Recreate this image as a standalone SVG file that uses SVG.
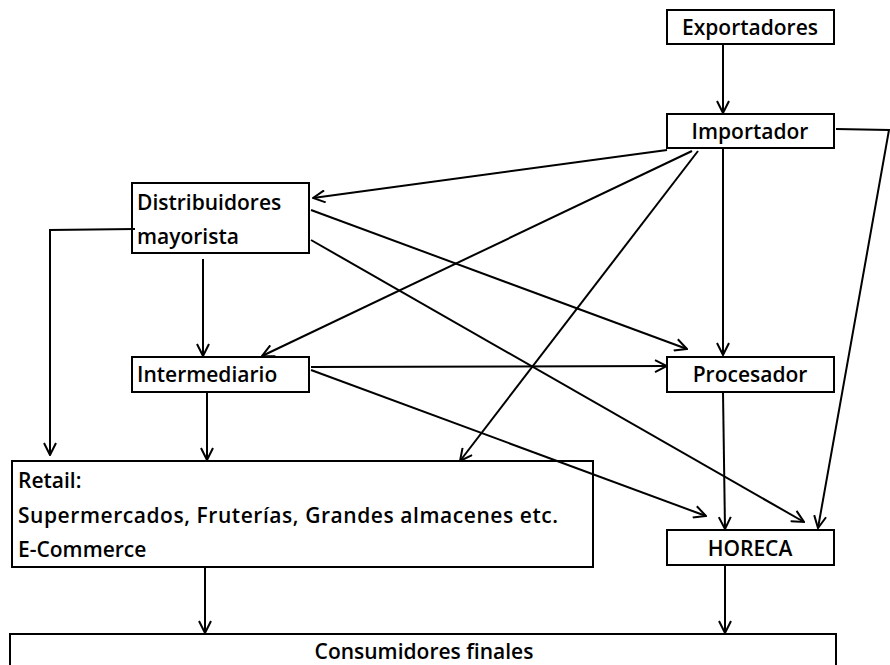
<svg xmlns="http://www.w3.org/2000/svg" width="890" height="665" viewBox="0 0 890 665">
<defs>
<marker id="arr" viewBox="0 0 14 14" refX="13" refY="7" markerWidth="14" markerHeight="14" markerUnits="userSpaceOnUse" orient="auto">
<path d="M1,1 L13,7 L1,13" fill="none" stroke="#000" stroke-width="2"/>
</marker>
<style>
.box{fill:none;stroke:#000;stroke-width:2}
.t{font-family:"Open Sans","Noto Sans",sans-serif;font-size:21px;font-weight:600;fill:#000}
.c{text-anchor:middle}
.e{fill:none;stroke:#000;stroke-width:2}
</style>
</defs>
<rect width="890" height="665" fill="#fff"/>
<g id="exportadores">
<rect class="box" x="667" y="10" width="167" height="34"/>
<text class="t c" x="750" y="35">Exportadores</text>
</g>
<g id="importador">
<rect class="box" x="667" y="114" width="167" height="34"/>
<text class="t c" x="750" y="139">Importador</text>
</g>
<g id="distribuidores">
<rect class="box" x="132" y="183" width="177" height="70"/>
<text class="t" x="137" y="210">Distribuidores</text>
<text class="t" x="137" y="244">mayorista</text>
</g>
<g id="intermediario">
<rect class="box" x="132" y="357" width="177" height="35"/>
<text class="t" x="137" y="382">Intermediario</text>
</g>
<g id="procesador">
<rect class="box" x="667" y="357" width="167" height="35"/>
<text class="t c" x="750" y="382">Procesador</text>
</g>
<g id="retail">
<rect class="box" x="12" y="461" width="581" height="106"/>
<text class="t" x="18" y="488">Retail:</text>
<text class="t" x="18" y="523" textLength="540" lengthAdjust="spacing">Supermercados, Fruterías, Grandes almacenes etc.</text>
<text class="t" x="18" y="557">E-Commerce</text>
</g>
<g id="horeca">
<rect class="box" x="667" y="530" width="167" height="35"/>
<text class="t c" x="750" y="556">HORECA</text>
</g>
<g id="consumidores">
<rect class="box" x="10" y="634" width="826" height="40"/>
<text class="t c" x="424" y="659">Consumidores finales</text>
</g>
<g id="connectors">
<line class="e" x1="723" y1="44" x2="723" y2="113" marker-end="url(#arr)"/>
<polyline class="e" points="836,129 889,130 818,528" marker-end="url(#arr)"/>
<line class="e" x1="667" y1="150" x2="313" y2="198" marker-end="url(#arr)"/>
<line class="e" x1="692" y1="151" x2="262" y2="356" marker-end="url(#arr)"/>
<line class="e" x1="698" y1="151" x2="460" y2="461" marker-end="url(#arr)"/>
<line class="e" x1="723" y1="148" x2="723" y2="355" marker-end="url(#arr)"/>
<line class="e" x1="311" y1="210" x2="687" y2="349" marker-end="url(#arr)"/>
<line class="e" x1="311" y1="240" x2="804" y2="522" marker-end="url(#arr)"/>
<line class="e" x1="203" y1="259" x2="203" y2="356" marker-end="url(#arr)"/>
<polyline class="e" points="135,229 50,230 50,455" marker-end="url(#arr)"/>
<line class="e" x1="311" y1="367" x2="667" y2="366" marker-end="url(#arr)"/>
<line class="e" x1="311" y1="370" x2="706" y2="516" marker-end="url(#arr)"/>
<line class="e" x1="207" y1="392" x2="207" y2="460" marker-end="url(#arr)"/>
<line class="e" x1="723" y1="392" x2="725" y2="529" marker-end="url(#arr)"/>
<line class="e" x1="205" y1="568" x2="205" y2="633" marker-end="url(#arr)"/>
<line class="e" x1="725" y1="565" x2="725" y2="633" marker-end="url(#arr)"/>
</g>
</svg>
